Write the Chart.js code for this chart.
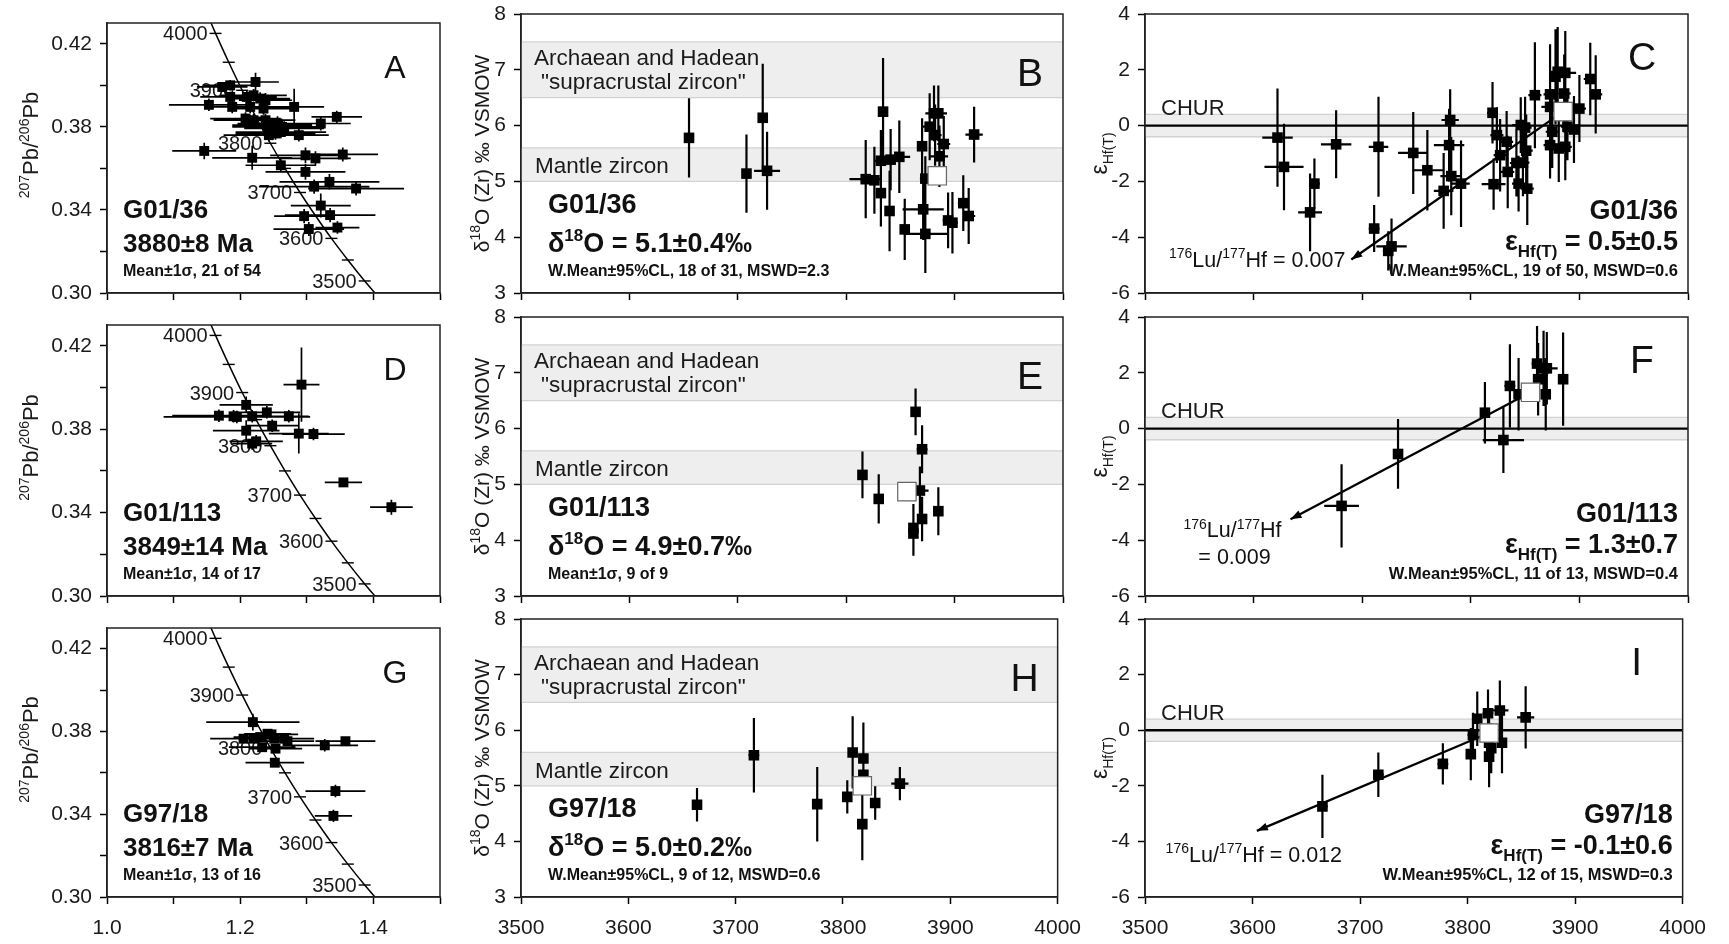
<!DOCTYPE html>
<html>
<head>
<meta charset="utf-8">
<script src="https://cdn.jsdelivr.net/npm/chart.js@4.4.1/dist/chart.umd.min.js"></script>
<style>
  body { margin: 0; background: #fff; width: 1729px; height: 944px; position: relative; overflow: hidden; }
  canvas { position: absolute; }
</style>
</head>
<body>
<script>
// ---- G01/36, U-Pb (Tera-Wasserburg) ----
const A_x    = [1.153,1.146,1.173,1.185,1.223,1.185,1.188,1.210,1.220,1.230,1.238,1.215,1.235,1.208,1.220,1.238,1.241,1.248,1.256,1.263,1.243,1.253,1.261,1.266,1.281,1.321,1.345,1.288,1.218,1.298,1.313,1.354,1.261,1.298,1.334,1.311,1.374,1.321,1.296,1.335,1.303,1.346];
const A_y    = [0.3906,0.3684,0.3992,0.4000,0.4016,0.3944,0.3896,0.3944,0.3952,0.3936,0.3928,0.3896,0.3888,0.3840,0.3832,0.3832,0.3800,0.3808,0.3816,0.3800,0.3760,0.3768,0.3775,0.3792,0.3896,0.3816,0.3848,0.3760,0.3651,0.3663,0.3648,0.3667,0.3615,0.3583,0.3535,0.3512,0.3503,0.3421,0.3370,0.3375,0.3308,0.3315];
const A_xErr = [0.060,0.048,0.038,0.040,0.035,0.045,0.038,0.045,0.050,0.045,0.040,0.045,0.045,0.053,0.060,0.045,0.053,0.060,0.060,0.060,0.068,0.060,0.068,0.060,0.045,0.045,0.038,0.045,0.060,0.053,0.053,0.053,0.053,0.060,0.075,0.083,0.072,0.045,0.045,0.068,0.053,0.033];
const A_yErr = [0.003,0.004,0.0024,0.0025,0.0045,0.0025,0.003,0.003,0.003,0.003,0.0035,0.003,0.003,0.003,0.003,0.003,0.0035,0.0035,0.0035,0.0035,0.003,0.003,0.003,0.0035,0.0087,0.0034,0.003,0.003,0.0058,0.0038,0.0034,0.0034,0.0034,0.0038,0.0038,0.0034,0.0034,0.0058,0.0034,0.0034,0.0034,0.003];

// ---- G01/113, U-Pb ----
const D_x    = [1.168,1.190,1.195,1.209,1.218,1.240,1.273,1.248,1.209,1.288,1.310,1.224,1.218,1.292,1.355,1.427];
const D_y    = [0.3865,0.3862,0.3859,0.3917,0.3862,0.3881,0.3862,0.3817,0.3793,0.3779,0.3777,0.3742,0.3731,0.4014,0.3545,0.3426];
const D_xErr = [0.070,0.060,0.110,0.040,0.050,0.050,0.030,0.040,0.050,0.045,0.047,0.040,0.030,0.027,0.028,0.032];
const D_yErr = [0.003,0.003,0.003,0.004,0.003,0.003,0.003,0.003,0.005,0.0096,0.003,0.003,0.003,0.0178,0.002,0.0036];

// ---- G97/18, U-Pb ----
const G_x    = [1.219,1.205,1.220,1.230,1.241,1.247,1.251,1.266,1.271,1.233,1.253,1.327,1.358,1.252,1.343,1.340];
const G_y    = [0.3845,0.3765,0.3765,0.3773,0.3789,0.3786,0.3765,0.3765,0.3753,0.3724,0.3717,0.3733,0.3753,0.3649,0.3512,0.3392];
const G_xErr = [0.070,0.050,0.040,0.040,0.035,0.040,0.060,0.040,0.040,0.050,0.040,0.050,0.045,0.044,0.045,0.028];
const G_yErr = [0.004,0.002,0.002,0.002,0.002,0.002,0.002,0.002,0.002,0.002,0.002,0.003,0.002,0.002,0.003,0.003];

// concordia (ages in Ma, 238U/206Pb, 207Pb/206Pb)
const concAge = [3450,3500,3550,3600,3650,3700,3750,3800,3850,3900,3950,4000,4050];
const concX   = [1.4129,1.3869,1.3616,1.3370,1.3131,1.2898,1.2673,1.2453,1.2239,1.2030,1.1828,1.1630,1.1437];
const concY   = [0.2961,0.3058,0.3159,0.3263,0.3372,0.3484,0.3600,0.3721,0.3846,0.3976,0.4111,0.4250,0.4395];

// ---- d18O vs age ----
const B_age     = [3655,3708,3723,3727,3834,3818,3826,3832,3832,3841,3849,3840,3854,3871,3873,3870,3877,3881,3885,3882,3890,3886,3894,3898,3908,3913,3918,3873];
const B_d18O    = [5.78,5.14,6.14,5.19,6.25,5.04,5.02,4.79,5.37,5.39,5.44,4.47,4.14,4.50,4.06,5.63,5.98,6.22,6.22,5.83,5.67,5.45,4.30,4.26,4.61,4.38,5.84,5.05];
const B_ageErr  = [0,0,0,12,0,15,0,0,5,5,10,0,0,19,20,0,6,8,8,6,6,8,5,5,5,6,8,5];
const B_d18OErr = [0.71,0.70,0.97,0.70,0.96,0.70,0.60,0.60,0.55,0.55,0.65,0.72,0.55,0.55,0.70,0.50,0.60,0.50,0.50,0.55,0.50,0.55,0.50,0.55,0.50,0.50,0.50,0.40];
const B_mean    = [3884, 5.1];

const E_age     = [3815,3830,3864,3870,3868,3862,3862,3870,3885];
const E_d18O    = [5.17,4.74,6.30,5.63,4.89,4.22,4.12,4.38,4.52];
const E_ageErr  = [0,0,0,5,8,0,0,0,0];
const E_d18OErr = [0.42,0.44,0.42,0.43,0.43,0.43,0.40,0.40,0.43];
const E_mean    = [3856, 4.87];

const H_age     = [3664,3717,3776,3804,3809,3819,3818,3830,3853,3819];
const H_d18O    = [4.66,5.55,4.67,4.80,5.60,5.49,4.31,4.69,5.04,5.20];
const H_ageErr  = [0,5,0,0,0,0,0,0,8,0];
const H_d18OErr = [0.30,0.67,0.67,0.30,0.65,0.65,0.65,0.30,0.30,0.30];
const H_mean    = [3818, 5.0];

// ---- eHf(T) vs age ----
const C_age    = [3622,3628,3656,3652,3676,3711,3715,3727,3724,3747,3760,3775,3780,3781,3782,3791,3820,3821,3824,3827,3833,3834,3842,3844,3846,3850,3851,3852,3848,3859,3873,3873,3875,3873,3881,3878,3880,3887,3886,3889,3895,3900,3910,3915,3887];
const C_eHf    = [-0.43,-1.48,-2.08,-3.11,-0.67,-3.69,-0.76,-4.33,-4.49,-0.98,-1.60,-2.34,-0.70,0.20,-1.81,-2.08,0.46,-2.10,-0.34,-1.06,-0.58,-1.66,-1.34,-2.08,0.02,-0.07,-0.90,-2.26,-1.33,1.09,1.12,0.67,-0.22,-0.70,-0.82,1.75,1.93,1.89,1.15,-0.04,-0.14,0.61,1.67,1.12,-0.76];
const C_ageErr = [14,18,5,11,14,5,9,14,5,14,14,9,14,8,10,8,5,11,6,6,6,6,6,6,8,6,6,6,6,6,6,8,6,6,6,6,6,10,6,6,6,6,6,6,6];
const C_eHfErr = [1.76,1.55,0.90,1.39,1.22,0.84,1.79,1.00,0.70,1.47,1.44,1.36,1.30,1.10,1.40,1.55,1.10,0.92,1.00,1.30,1.10,1.30,1.20,1.00,1.00,1.10,1.30,1.30,1.20,1.90,1.80,1.30,1.30,1.20,1.20,1.70,1.60,1.50,1.40,1.20,1.20,1.20,1.30,1.40,1.20];
const C_mean   = [3885, 0.5];
const C_luhf   = [[3885, 0.5], [3690, -4.8]];

const F_age    = [3681,3733,3813,3830,3836,3844,3861,3862,3867,3870,3869,3885];
const F_eHf    = [-2.77,-0.91,0.57,-0.41,1.53,1.23,2.33,1.77,2.16,2.16,1.23,1.77];
const F_ageErr = [16,0,0,19,5,0,5,0,5,10,0,0];
const F_eHfErr = [1.49,1.25,1.10,1.18,1.49,1.30,1.35,1.30,1.35,1.30,1.30,1.67];
const F_mean   = [3855, 1.3];
const F_luhf   = [[3855, 1.3], [3634, -3.25]];

const I_age    = [3665,3717,3777,3803,3805,3809,3819,3820,3820,3822,3830,3832,3854];
const I_eHf    = [-2.74,-1.60,-1.21,-0.86,-0.17,0.41,0.61,-0.45,-0.95,-0.65,0.71,-0.45,0.46];
const I_ageErr = [5,5,5,0,5,0,5,0,0,0,8,0,8];
const I_eHfErr = [1.14,0.80,0.74,0.94,0.80,0.98,0.85,0.90,1.10,0.90,1.08,1.10,1.12];
const I_mean   = [3820, -0.1];
const I_luhf   = [[3820, -0.1], [3604, -3.62]];

// reference bands
const supracrustalBand = [6.5, 7.5];
const mantleBand       = [5.0, 5.6];
const churBand         = [-0.4, 0.4];

// tick labels
const pbTickLabels    = [0.30, 0.34, 0.38, 0.42];
const ratioTickLabels = [1.0, 1.2, 1.4];
const ageTickLabels   = [3500, 3600, 3700, 3800, 3900, 4000];
const concLabelAges   = [3500, 3600, 3700, 3800, 3900, 4000];

const FONT = '"Liberation Sans", Arial, Helvetica, sans-serif';

// frames on the page: [left, right] per column, [top, bottom] per row
const colX = [[107, 440], [521, 1063], [1145, 1688]];
const rowY = [[[23, 293], [325, 596], [628, 897]],
              [[14, 293], [317, 596], [619, 897]],
              [[14, 293], [317, 596], [619, 897]]];
const axisW = [107, 62, 62];
const PADT = 26, PADR = 30, XH = 48;

// text with ^{sup} and _{sub}
function parseRich(s) {
  const out = [];
  let i = 0, buf = '';
  while (i < s.length) {
    if ((s[i] === '^' || s[i] === '_') && s[i + 1] === '{') {
      if (buf) { out.push([buf, 0]); buf = ''; }
      const j = s.indexOf('}', i);
      out.push([s.slice(i + 2, j), s[i] === '^' ? 1 : -1]);
      i = j + 1;
    } else {
      buf += s[i++];
    }
  }
  if (buf) out.push([buf, 0]);
  return out;
}

function drawRich(ctx, s, x, y, o) {
  const size = o.size || 21, weight = o.weight || 'normal';
  const small = o.small || Math.round(size * 0.62);
  const parts = parseRich(s).map(([t, k]) => {
    const fs = k ? small : size;
    ctx.font = weight + ' ' + fs + 'px ' + FONT;
    return { t, k, fs, w: ctx.measureText(t).width };
  });
  const total = parts.reduce((a, p) => a + p.w, 0);
  let cx = o.align === 'center' ? x - total / 2 : o.align === 'right' ? x - total : x;
  ctx.fillStyle = o.color || '#111';
  ctx.textAlign = 'left';
  ctx.textBaseline = 'alphabetic';
  parts.forEach(p => {
    ctx.font = weight + ' ' + p.fs + 'px ' + FONT;
    const dy = p.k === 1 ? -size * 0.4 : p.k === -1 ? size * 0.25 : 0;
    ctx.fillText(p.t, cx, y + dy);
    cx += p.w;
  });
}

const cfgs = {};

const figPlugin = {
  id: 'fig',
  beforeDatasetsDraw(chart) {
    const p = cfgs[chart.canvas.id];
    const ctx = chart.ctx, a = chart.chartArea;
    const X = v => chart.scales.x.getPixelForValue(v);
    const Y = v => chart.scales.y.getPixelForValue(v);
    ctx.save();
    ctx.beginPath();
    ctx.rect(a.left, a.top, a.right - a.left, a.bottom - a.top);
    ctx.clip();

    (p.bands || []).forEach(([lo, hi]) => {
      const y1 = Y(hi), y0 = Y(lo);
      ctx.fillStyle = '#eeeeee';
      ctx.fillRect(a.left, y1, a.right - a.left, y0 - y1);
      ctx.strokeStyle = '#d2d2d2';
      ctx.lineWidth = 1.3;
      ctx.beginPath();
      ctx.moveTo(a.left, y1); ctx.lineTo(a.right, y1);
      ctx.moveTo(a.left, y0); ctx.lineTo(a.right, y0);
      ctx.stroke();
    });
    if (p.kind === 'hf') {
      ctx.strokeStyle = '#000';
      ctx.lineWidth = 2.4;
      ctx.beginPath();
      ctx.moveTo(a.left, Y(0)); ctx.lineTo(a.right, Y(0));
      ctx.stroke();
    }
    if (p.kind === 'pb') {
      ctx.strokeStyle = '#000';
      ctx.lineWidth = 1.4;
      concAge.forEach((age, i) => {
        const px = X(concX[i]), py = Y(concY[i]);
        ctx.beginPath();
        ctx.moveTo(px - 6, py); ctx.lineTo(px + 6, py);
        ctx.stroke();
        if (concLabelAges.includes(age)) {
          drawRich(ctx, String(age), px - 8, py + 7, { size: 20, align: 'right', color: '#1a1a1a' });
        }
      });
    }

    ctx.strokeStyle = '#000';
    ctx.lineWidth = p.kind === 'pb' ? 1.7 : 2.2;
    ctx.beginPath();
    p.x.forEach((xv, i) => {
      const yv = p.y[i], px = X(xv), py = Y(yv);
      if (p.xe[i]) { ctx.moveTo(X(xv - p.xe[i]), py); ctx.lineTo(X(xv + p.xe[i]), py); }
      if (p.ye[i]) { ctx.moveTo(px, Y(yv - p.ye[i])); ctx.lineTo(px, Y(yv + p.ye[i])); }
    });
    ctx.stroke();
    ctx.restore();
  },
  afterDatasetsDraw(chart) {
    const p = cfgs[chart.canvas.id];
    const ctx = chart.ctx, a = chart.chartArea;
    const X = v => chart.scales.x.getPixelForValue(v);
    const Y = v => chart.scales.y.getPixelForValue(v);
    ctx.save();

    // arrow head of the Lu/Hf evolution line
    if (p.luhf) {
      const [s, e] = p.luhf;
      const x0 = X(s[0]), y0 = Y(s[1]), x1 = X(e[0]), y1 = Y(e[1]);
      const ang = Math.atan2(y1 - y0, x1 - x0);
      ctx.fillStyle = '#000';
      ctx.beginPath();
      ctx.moveTo(x1, y1);
      ctx.lineTo(x1 - 11 * Math.cos(ang) + 4 * Math.sin(ang), y1 - 11 * Math.sin(ang) - 4 * Math.cos(ang));
      ctx.lineTo(x1 - 11 * Math.cos(ang) - 4 * Math.sin(ang), y1 - 11 * Math.sin(ang) + 4 * Math.cos(ang));
      ctx.closePath();
      ctx.fill();
      p.luhfText.forEach(t => drawRich(ctx, t.s, x1 + t.dx, y1 + t.dy, { size: 21.5, small: 14, align: t.align }));
    }

    // frame
    ctx.strokeStyle = '#222';
    ctx.lineWidth = 1.5;
    ctx.strokeRect(a.left, a.top, a.right - a.left, a.bottom - a.top);

    // annotations
    p.texts.forEach(t => {
      const x = t.ax === 'r' ? a.right + t.dx : a.left + t.dx;
      const y = t.ay === 'b' ? a.bottom + t.dy : a.top + t.dy;
      drawRich(ctx, t.s, x, y, t);
    });

    // rotated y-axis title
    const yt = p.ytitle;
    ctx.translate(a.left + yt.dx, (a.top + a.bottom) / 2 + yt.dy);
    ctx.rotate(-Math.PI / 2);
    drawRich(ctx, yt.s, 0, yt.size * 0.36, { size: yt.size, small: yt.small, align: 'center', color: '#1a1a1a' });
    ctx.restore();
  }
};

function sampleTexts(kind, name, value, stat, letter) {
  if (kind === 'pb') return [
    { s: letter, ax: 'r', dx: -45, ay: 't', dy: 55, size: 32, align: 'center' },
    { s: name,  ax: 'l', dx: 16, ay: 'b', dy: -75, size: 26, weight: 'bold' },
    { s: value, ax: 'l', dx: 16, ay: 'b', dy: -41, size: 26, weight: 'bold' },
    { s: stat,  ax: 'l', dx: 16, ay: 'b', dy: -17, size: 16, weight: 'bold' }
  ];
  if (kind === 'o') return [
    { s: letter, ax: 'r', dx: -33, ay: 't', dy: 72, size: 39, align: 'center' },
    { s: 'Archaean and Hadean', ax: 'l', dx: 13, ay: 't', dy: 51, size: 22.5, color: '#1a1a1a' },
    { s: '"supracrustal zircon"', ax: 'l', dx: 20, ay: 't', dy: 75, size: 22.5, color: '#1a1a1a' },
    { s: 'Mantle zircon', ax: 'l', dx: 14, ay: 't', dy: 159, size: 22.5, color: '#1a1a1a' },
    { s: name,  ax: 'l', dx: 27, ay: 'b', dy: -80, size: 27, weight: 'bold' },
    { s: value, ax: 'l', dx: 27, ay: 'b', dy: -41, size: 27, small: 17, weight: 'bold' },
    { s: stat,  ax: 'l', dx: 27, ay: 'b', dy: -17, size: 16, weight: 'bold' }
  ];
  return [
    { s: letter, ax: 'r', dx: -46, ay: 't', dy: 56, size: 39, align: 'center' },
    { s: 'CHUR', ax: 'l', dx: 16, ay: 't', dy: 101, size: 22, color: '#1a1a1a' },
    { s: name,  ax: 'r', dx: -10, ay: 'b', dy: -74, size: 27, weight: 'bold', align: 'right' },
    { s: value, ax: 'r', dx: -10, ay: 'b', dy: -43, size: 27, small: 17, weight: 'bold', align: 'right' },
    { s: stat,  ax: 'r', dx: -10, ay: 'b', dy: -17, size: 16.5, weight: 'bold', align: 'right' }
  ];
}

const titles = {
  pb: { s: '^{207}Pb/^{206}Pb', dx: -77, dy: -13, size: 22, small: 14 },
  o:  { s: 'δ^{18}O (Zr) ‰ VSMOW', dx: -40, dy: 0, size: 21, small: 14 },
  hf: { s: 'ε_{Hf(T)}', dx: -46, dy: 0, size: 23, small: 14 }
};

const panels = [
  { id: 'A', col: 0, row: 0, kind: 'pb', x: A_x, y: A_y, xe: A_xErr, ye: A_yErr, name: 'G01/36', value: '3880±8 Ma', stat: 'Mean±1σ, 21 of 54' },
  { id: 'D', col: 0, row: 1, kind: 'pb', x: D_x, y: D_y, xe: D_xErr, ye: D_yErr, name: 'G01/113', value: '3849±14 Ma', stat: 'Mean±1σ, 14 of 17' },
  { id: 'G', col: 0, row: 2, kind: 'pb', x: G_x, y: G_y, xe: G_xErr, ye: G_yErr, name: 'G97/18', value: '3816±7 Ma', stat: 'Mean±1σ, 13 of 16' },
  { id: 'B', col: 1, row: 0, kind: 'o', x: B_age, y: B_d18O, xe: B_ageErr, ye: B_d18OErr, mean: B_mean, name: 'G01/36', value: 'δ^{18}O = 5.1±0.4‰', stat: 'W.Mean±95%CL, 18 of 31, MSWD=2.3' },
  { id: 'E', col: 1, row: 1, kind: 'o', x: E_age, y: E_d18O, xe: E_ageErr, ye: E_d18OErr, mean: E_mean, name: 'G01/113', value: 'δ^{18}O = 4.9±0.7‰', stat: 'Mean±1σ, 9 of 9' },
  { id: 'H', col: 1, row: 2, kind: 'o', x: H_age, y: H_d18O, xe: H_ageErr, ye: H_d18OErr, mean: H_mean, name: 'G97/18', value: 'δ^{18}O = 5.0±0.2‰', stat: 'W.Mean±95%CL, 9 of 12, MSWD=0.6' },
  { id: 'C', col: 2, row: 0, kind: 'hf', x: C_age, y: C_eHf, xe: C_ageErr, ye: C_eHfErr, mean: C_mean, luhf: C_luhf, name: 'G01/36', value: 'ε_{Hf(T)} = 0.5±0.5', stat: 'W.Mean±95%CL, 19 of 50, MSWD=0.6',
    luhfText: [{ s: '^{176}Lu/^{177}Hf = 0.007', dx: -6, dy: 7, align: 'right' }] },
  { id: 'F', col: 2, row: 1, kind: 'hf', x: F_age, y: F_eHf, xe: F_ageErr, ye: F_eHfErr, mean: F_mean, luhf: F_luhf, name: 'G01/113', value: 'ε_{Hf(T)} = 1.3±0.7', stat: 'W.Mean±95%CL, 11 of 13, MSWD=0.4',
    luhfText: [{ s: '^{176}Lu/^{177}Hf', dx: -58, dy: 18, align: 'center' }, { s: '= 0.009', dx: -56, dy: 45, align: 'center' }] },
  { id: 'I', col: 2, row: 2, kind: 'hf', x: I_age, y: I_eHf, xe: I_ageErr, ye: I_eHfErr, mean: I_mean, luhf: I_luhf, name: 'G97/18', value: 'ε_{Hf(T)} = -0.1±0.6', stat: 'W.Mean±95%CL, 12 of 15, MSWD=0.3',
    luhfText: [{ s: '^{176}Lu/^{177}Hf = 0.012', dx: -3, dy: 31, align: 'center' }] }
];

const near = (list, v) => list.some(k => Math.abs(k - v) < 1e-6);

panels.forEach(p => {
  const [l, r] = colX[p.col], [t, b] = rowY[p.col][p.row], yw = axisW[p.col];
  const W = yw + (r - l) + PADR, H = PADT + (b - t) + XH;
  const cv = document.createElement('canvas');
  cv.id = 'panel' + p.id;
  cv.width = W; cv.height = H;
  cv.style.left = (l - yw) + 'px';
  cv.style.top = (t - PADT) + 'px';
  cv.style.width = W + 'px';
  cv.style.height = H + 'px';
  document.body.appendChild(cv);

  p.bands = p.kind === 'o' ? [supracrustalBand, mantleBand] : p.kind === 'hf' ? [churBand] : [];
  p.texts = sampleTexts(p.kind, p.name, p.value, p.stat, p.id);
  p.ytitle = titles[p.kind];
  cfgs[cv.id] = p;

  const bottomRow = p.row === 2;
  const isPb = p.kind === 'pb';
  const xScale = isPb ? { min: 1.0, max: 1.5, step: 0.1 } : { min: 3500, max: 4000, step: 100 };
  const yScale = isPb ? { min: 0.30, max: 0.43, step: 0.02 } : p.kind === 'o' ? { min: 3, max: 8, step: 1 } : { min: -6, max: 4, step: 2 };

  const tickFont = { family: FONT, size: 21 };
  const datasets = [];
  if (p.mean) {
    datasets.push({ data: [{ x: p.mean[0], y: p.mean[1] }], pointStyle: 'rect', pointRadius: 13,
      backgroundColor: '#ffffff', borderColor: '#666', borderWidth: 1.2 });
  }
  datasets.push({ data: p.x.map((v, i) => ({ x: v, y: p.y[i] })), pointStyle: 'rect', pointRadius: isPb ? 7 : 7.5,
    backgroundColor: '#000', borderColor: '#000', borderWidth: 0 });
  if (p.luhf) {
    datasets.push({ data: p.luhf.map(q => ({ x: q[0], y: q[1] })), showLine: true, borderColor: '#000',
      borderWidth: 2.3, pointRadius: 0 });
  }
  if (isPb) {
    datasets.push({ data: concX.map((v, i) => ({ x: v, y: concY[i] })), showLine: true, borderColor: '#000',
      borderWidth: 1.5, pointRadius: 0, tension: 0.3 });
  }

  new Chart(cv.getContext('2d'), {
    type: 'scatter',
    data: { datasets },
    plugins: [figPlugin],
    options: {
      responsive: false,
      animation: false,
      devicePixelRatio: 1,
      events: [],
      layout: { padding: { left: 0, top: PADT, right: PADR, bottom: 0 } },
      plugins: { legend: { display: false }, tooltip: { enabled: false } },
      scales: {
        x: {
          type: 'linear', min: xScale.min, max: xScale.max,
          ticks: {
            stepSize: xScale.step, autoSkip: false, maxRotation: 0, includeBounds: false,
            font: tickFont, color: '#1a1a1a', padding: 12,
            callback: v => {
              if (!bottomRow) return '';
              if (isPb) return near(ratioTickLabels, v) ? v.toFixed(1) : '';
              return near(ageTickLabels, v) ? String(Math.round(v)) : '';
            }
          },
          grid: { drawOnChartArea: false, drawTicks: true, tickLength: 7, tickWidth: 1.5, tickColor: '#000', color: '#000' },
          border: { display: true, color: '#222', width: 1.5 },
          afterFit: s => { s.height = XH; }
        },
        y: {
          type: 'linear', min: yScale.min, max: yScale.max,
          ticks: {
            stepSize: yScale.step, autoSkip: false, includeBounds: false,
            font: tickFont, color: '#1a1a1a', padding: 8,
            callback: v => isPb ? (near(pbTickLabels, v) ? v.toFixed(2) : '') : String(Math.round(v))
          },
          grid: { drawOnChartArea: false, drawTicks: true, tickLength: 7, tickWidth: 1.5, tickColor: '#000', color: '#000' },
          border: { display: true, color: '#222', width: 1.5 },
          afterFit: s => { s.width = yw; }
        }
      }
    }
  });
});
</script>
</body>
</html>
